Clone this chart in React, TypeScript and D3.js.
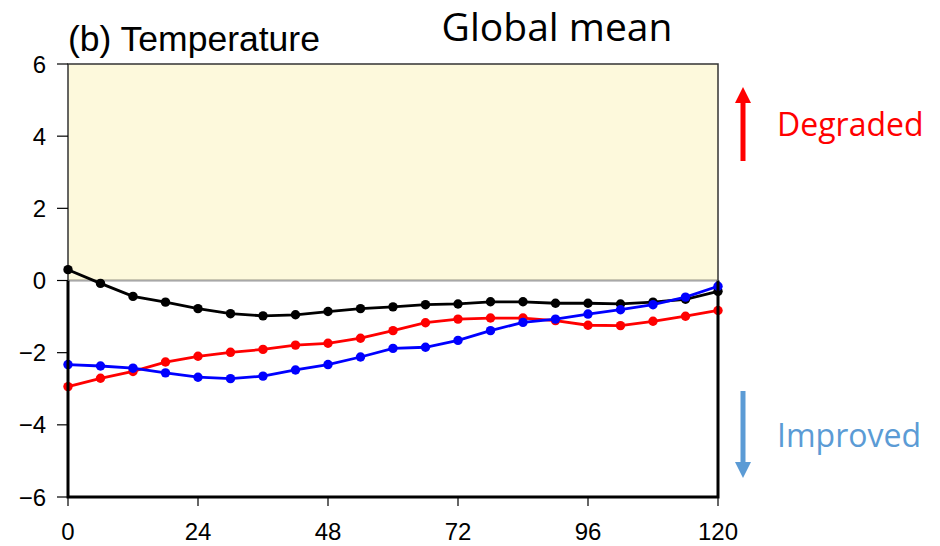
import React from 'react'
import * as d3 from 'd3'

// forecast lead time (hours), every 6h
const leadHours = d3.range(0, 121, 6)
const xTickValues = [0, 24, 48, 72, 96, 120]
const yTickValues = [-6, -4, -2, 0, 2, 4, 6]

// values
const blackSeries = [0.3, -0.08, -0.44, -0.6, -0.78, -0.92, -0.98, -0.95, -0.86, -0.78, -0.73, -0.67, -0.65, -0.59, -0.59, -0.63, -0.63, -0.65, -0.6, -0.52, -0.3]
const redSeries = [-2.94, -2.71, -2.52, -2.26, -2.1, -1.99, -1.91, -1.79, -1.74, -1.6, -1.39, -1.17, -1.07, -1.04, -1.04, -1.11, -1.24, -1.25, -1.13, -0.99, -0.83]
const blueSeries = [-2.33, -2.37, -2.43, -2.56, -2.68, -2.72, -2.65, -2.48, -2.33, -2.12, -1.88, -1.85, -1.66, -1.39, -1.16, -1.07, -0.93, -0.81, -0.67, -0.46, -0.16]

const series = [
  { name: 'black', color: '#000000', values: blackSeries },
  { name: 'red', color: '#ff0000', values: redSeries },
  { name: 'blue', color: '#0000ff', values: blueSeries },
]

const W = 940
const H = 546
const left = 68, right = 718, top = 64, bottom = 497

export default function App() {
  const x = d3.scaleLinear().domain([0, 120]).range([left, right])
  const y = d3.scaleLinear().domain([-6, 6]).range([bottom, top])

  const line = d3.line<number>()
    .x((d, i) => x(leadHours[i]))
    .y(d => y(d))

  const axisFont = '"Liberation Sans", Arial, sans-serif'
  const labelFont = '"Open Sans", "Noto Sans", sans-serif'

  return (
    <svg width={W} height={H} style={{ position: 'absolute', left: 0, top: 0 }}>
      <rect x={0} y={0} width={W} height={H} fill="#fff" />

      {/* degraded region */}
      <rect x={x(0)} y={y(6)} width={x(120) - x(0)} height={y(0) - y(6)} fill="#fdf9dc" stroke="#333" strokeWidth={1.5} />
      <line x1={x(0)} x2={x(120)} y1={y(0)} y2={y(0)} stroke="#a8a8a8" strokeWidth={1.2} />

      {series.map(s => (
        <g key={s.name}>
          <path d={line(s.values) || ''} fill="none" stroke={s.color} strokeWidth={2.8} />
          {s.values.map((v, i) => (
            <circle key={i} cx={x(leadHours[i])} cy={y(v)} r={4.7} fill={s.color} />
          ))}
        </g>
      ))}

      {/* lower frame */}
      <path d={`M${x(0)},${y(0)}V${y(-6)}H${x(120)}V${y(0)}`} fill="none" stroke="#000" strokeWidth={3} />

      {/* y axis */}
      <g fontFamily={axisFont} fontSize={24} fill="#000">
        {yTickValues.map(t => (
          <g key={t}>
            <line x1={left - 11} x2={left} y1={y(t)} y2={y(t)} stroke="#000" strokeWidth={1.2} />
            <text x={46} y={y(t)} dy="0.36em" textAnchor="end">{t < 0 ? `\u2212${-t}` : t}</text>
          </g>
        ))}
      </g>

      {/* x axis */}
      <g fontFamily={axisFont} fontSize={24} fill="#000">
        {xTickValues.map(t => (
          <g key={t}>
            <line x1={x(t)} x2={x(t)} y1={bottom} y2={bottom + 9} stroke="#000" strokeWidth={1.2} />
            <text x={x(t)} y={540} textAnchor="middle">{t}</text>
          </g>
        ))}
      </g>

      <text x={68} y={51} fontFamily={axisFont} fontSize={35.5} fill="#000">(b) Temperature</text>
      <text x={557} y={41} fontFamily={labelFont} fontSize={39} textAnchor="middle" fill="#000">Global mean</text>

      {/* arrows */}
      <line x1={743} x2={743} y1={161} y2={100} stroke="#ff0000" strokeWidth={5} />
      <path d="M735,103L743,87L751,103Z" fill="#ff0000" />
      <text x={777} y={136} fontFamily={labelFont} fontSize={32} fill="#ff0000">Degraded</text>

      <line x1={743} x2={743} y1={391} y2={465} stroke="#5b9bd5" strokeWidth={5} />
      <path d="M735,462L743,478L751,462Z" fill="#5b9bd5" />
      <text x={777} y={447} fontFamily={labelFont} fontSize={32} fill="#5b9bd5">Improved</text>
    </svg>
  )
}
